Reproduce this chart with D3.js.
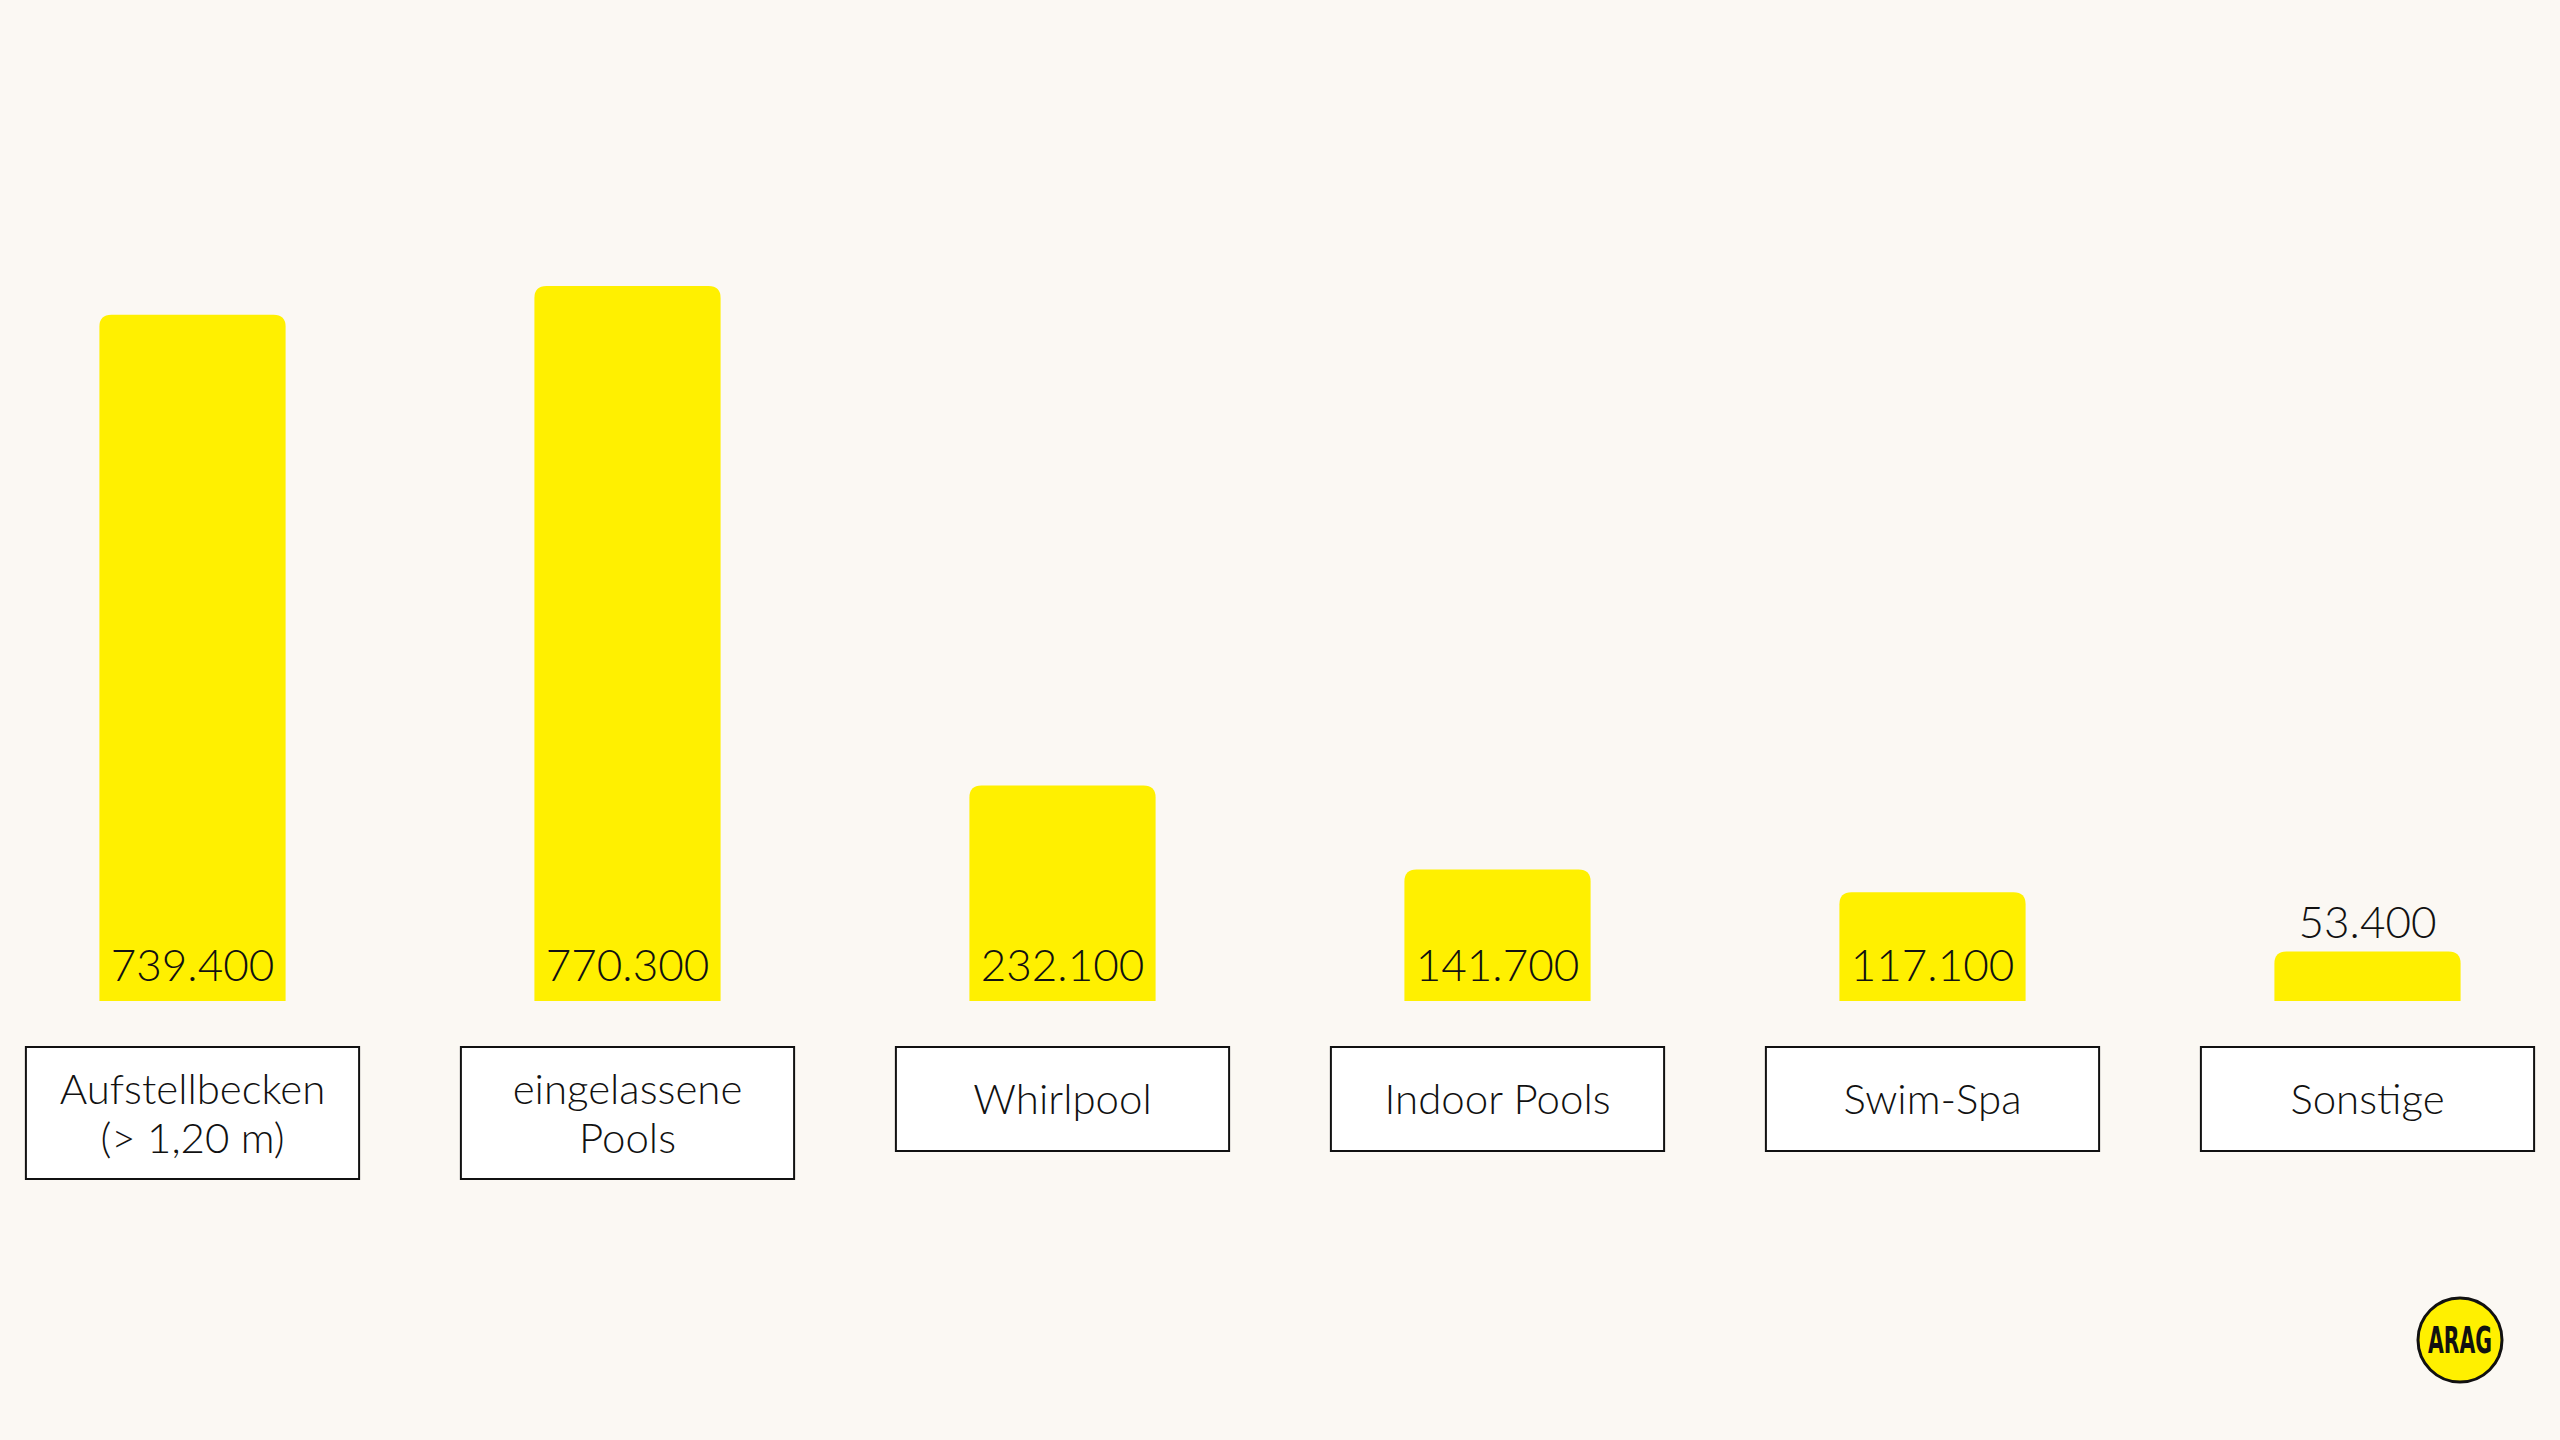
<!DOCTYPE html>
<html>
<head>
<meta charset="utf-8">
<script src="https://cdn.jsdelivr.net/npm/d3@7"></script>
<style>
  html, body { margin: 0; padding: 0; background: #FBF8F3; }
  svg { display: block; }
</style>
</head>
<body>
<svg id="chart" width="2560" height="1440"></svg>
<script>
// ---- data ----
const categories = ["Aufstellbecken (> 1,20 m)", "eingelassene Pools", "Whirlpool", "Indoor Pools", "Swim-Spa", "Sonstige"];
const categoryLines = [["Aufstellbecken", "(> 1,20 m)"], ["eingelassene", "Pools"], ["Whirlpool"], ["Indoor Pools"], ["Swim-Spa"], ["Sonstige"]];
const values = [739400, 770300, 232100, 141700, 117100, 53400];

// ---- setup ----
const W = 2560, H = 1440;
const svg = d3.select("#chart");
svg.append("rect").attr("width", W).attr("height", H).attr("fill", "#FBF8F3");

const FONT = "Lato, 'Open Sans', sans-serif";
const WEIGHT = 300;
const YELLOW = "#FFF000";
const baseY = 1001;

const x = d3.scaleBand().domain(categories).range([-25, 2585]).paddingInner(0.572).paddingOuter(0.286);
const y = d3.scaleLinear().domain([0, 800000]).range([baseY, baseY - 742.6]);

const de = d3.formatLocale({ decimal: ",", thousands: ".", grouping: [3], currency: ["", " €"] });
const fmt = de.format(",d");

const r = 12;
function barPath(x0, w, yTop, yBot) {
  const rr = Math.min(r, (yBot - yTop), w / 2);
  return `M${x0},${yBot} L${x0},${yTop + rr} Q${x0},${yTop} ${x0 + rr},${yTop} L${x0 + w - rr},${yTop} Q${x0 + w},${yTop} ${x0 + w},${yTop + rr} L${x0 + w},${yBot} Z`;
}

const data = categories.map((c, i) => ({ cat: c, lines: categoryLines[i], value: values[i] }));

const g = svg.append("g");

g.selectAll("path.bar").data(data).join("path")
  .attr("class", "bar")
  .attr("fill", YELLOW)
  .attr("d", d => barPath(x(d.cat), x.bandwidth(), y(d.value), y(0)));

// value labels
g.selectAll("text.val").data(data).join("text")
  .attr("class", "val")
  .attr("x", d => x(d.cat) + x.bandwidth() / 2)
  .attr("y", d => {
    const inside = y(0) - 20;
    const top = y(d.value);
    return (y(0) - top) > 60 ? inside : top - 13;
  })
  .attr("text-anchor", "middle")
  .attr("font-family", FONT)
  .attr("font-weight", WEIGHT)
  .attr("font-size", 44)
  .attr("fill", "#111")
  .text(d => fmt(d.value));

// category boxes
const boxW = x.step() * 0.766;
const boxTop = 1047;
const lineH = 49;
const cg = g.selectAll("g.cat").data(data).join("g").attr("class", "cat");
cg.append("rect")
  .attr("x", d => x(d.cat) + x.bandwidth() / 2 - boxW / 2)
  .attr("y", boxTop)
  .attr("width", boxW)
  .attr("height", d => d.lines.length > 1 ? 132 : 104)
  .attr("fill", "#FFFFFF")
  .attr("stroke", "#111")
  .attr("stroke-width", 2);
cg.each(function(d) {
  const sel = d3.select(this);
  const cx = x(d.cat) + x.bandwidth() / 2;
  const h = d.lines.length > 1 ? 132 : 104;
  const mid = boxTop + h / 2;
  const n = d.lines.length;
  d.lines.forEach((ln, j) => {
    sel.append("text")
      .attr("x", cx)
      .attr("y", mid + (j - (n - 1) / 2) * lineH + 15)
      .attr("text-anchor", "middle")
      .attr("font-family", FONT)
      .attr("font-weight", WEIGHT)
      .attr("font-size", 42)
      .attr("fill", "#111")
      .text(ln);
  });
});

// logo
const logo = svg.append("g").attr("transform", "translate(2460,1340)");
logo.append("circle").attr("r", 42).attr("fill", YELLOW).attr("stroke", "#111").attr("stroke-width", 3);
logo.append("text").attr("text-anchor", "middle").attr("y", 13)
  .attr("font-family", "'Liberation Sans Narrow', 'DejaVu Sans Condensed', sans-serif")
  .attr("font-weight", "bold").attr("font-size", 38).attr("fill", "#111")
  .attr("textLength", 64).attr("lengthAdjust", "spacingAndGlyphs")
  .text("ARAG");
</script>
</body>
</html>
